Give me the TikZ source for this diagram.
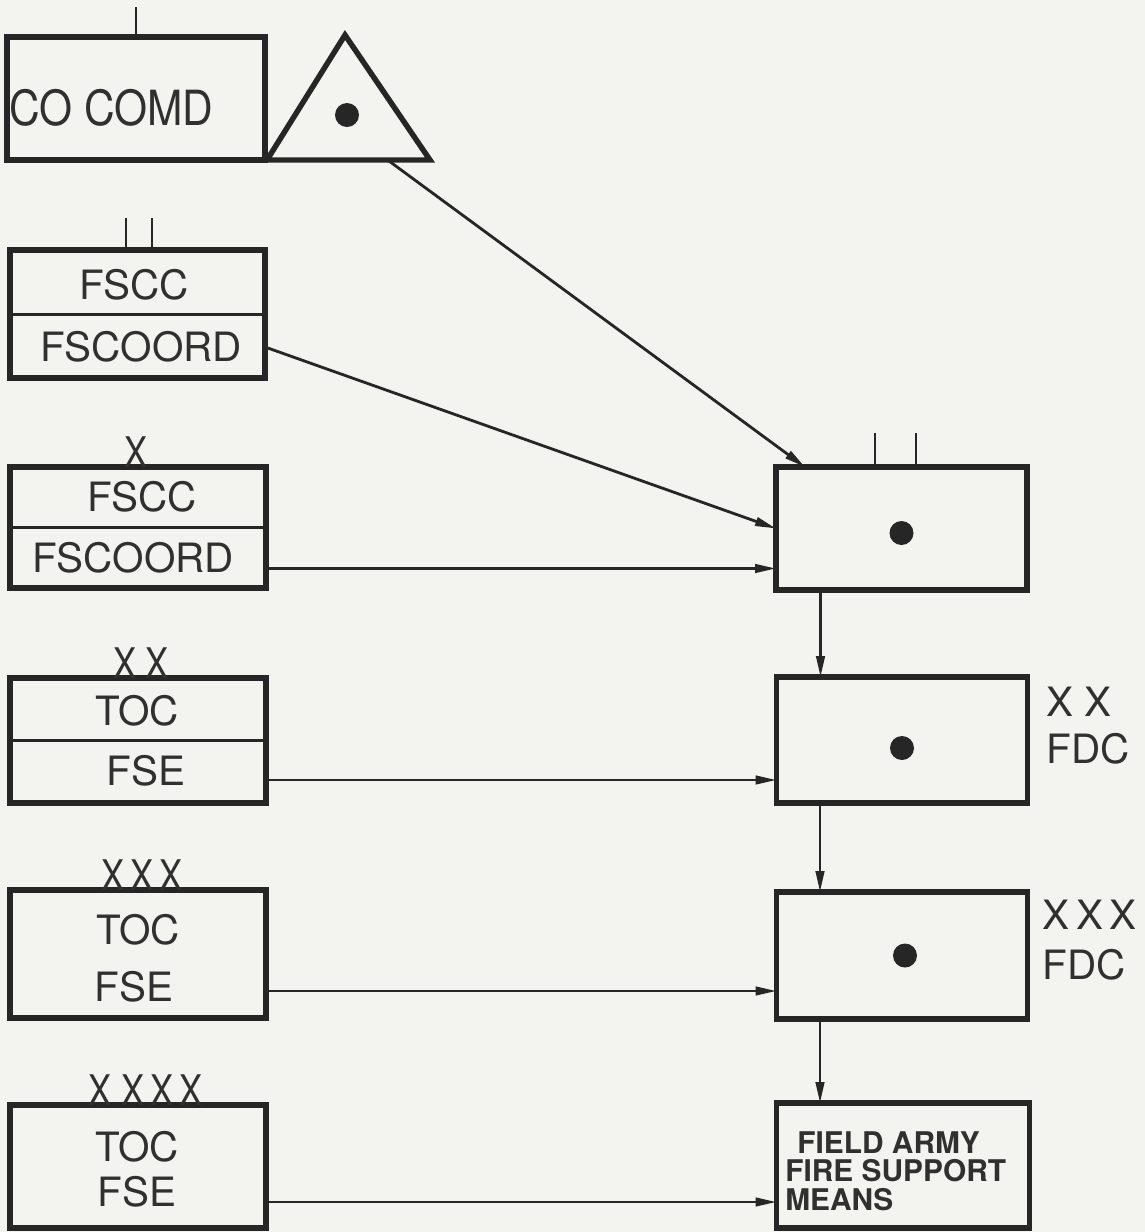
\documentclass[tikz,border=0pt]{standalone}
\usepackage{fontspec}
\setmainfont{TeX Gyre Heros}
\usetikzlibrary{arrows.meta, positioning, calc}
\definecolor{ink}{HTML}{262626}
\definecolor{lettering}{HTML}{303030}
\definecolor{paper}{HTML}{F3F3EF}

\begin{document}
\begin{tikzpicture}[
  x=0.02cm, y=-0.02cm,
  box/.style={rectangle, draw=ink, line width=3.1pt, outer sep=0pt, minimum width=5.12cm, minimum height=2.5cm},
  fdc box/.style={box, minimum width=5.02cm},
  txt/.style={font=\fontsize{23}{26}\selectfont, text=lettering, inner sep=0pt},
  echelon/.style={font=\fontsize{24}{26}\selectfont, text=lettering, inner sep=0pt, anchor=base},
  divider/.style={draw=ink, line width=1.7pt},
  tick/.style={draw=ink, line width=1.6pt},
  flow/.style={draw=ink, line width=1.6pt, -{Triangle[length=0.42cm, width=0.17cm]}},
  dot/.style={circle, fill=ink, inner sep=0pt, minimum size=0.48cm},
]

  \fill[paper] (0,0) rectangle (1145,1232);
  \useasboundingbox (0,0) rectangle (1145,1232);

  % CO COMD and observation post
  \node[box, minimum width=5.16cm, minimum height=2.46cm] (cocomd) at (136,98.5) {};
  \node[txt, anchor=west] (cocomdlbl) at (9,108) {\scalebox{1.05}[1.2]{CO COMD}};
  \draw[tick] (cocomd.north) -- ++(0,-30);
  \coordinate (tl) at (267,160);
  \coordinate (ta) at (345,35);
  \coordinate (tr) at (430,160);
  \draw[ink, line width=3.1pt] (tl) -- (ta) -- (tr) -- cycle;
  \node[dot] (opdot) at (347,115) {};
  \coordinate (opout) at ($(tl)!0.74!(tr)$);

  % II
  \node[box, minimum width=5.1cm, minimum height=2.56cm] (bn) at (137.5,314) {};
  \draw[divider] (bn.west) -- (bn.east);
  \node[txt] (bnup) at (134,285) {FSCC};
  \node[txt] (bnlo) at (141,347) {FSCOORD};
  \draw[tick] ([xshift=-0.23cm]bn.north) -- ++(0,-32);
  \draw[tick] ([xshift=0.29cm]bn.north) -- ++(0,-32);

  % X
  \node[box, minimum height=2.42cm] (bde) at (138,527.5) {};
  \draw[divider] (bde.west) -- (bde.east);
  \node[txt] (bdeup) at (142,497) {FSCC};
  \node[txt] (bdelo) at (133,558) {FSCOORD};
  \node[echelon] (bdex) at ([xshift=-0.04cm]bde.north) {\scalebox{0.82}[1]{X}};

  % XX
  \node[box] (div) at (138,740.5) {};
  \draw[divider] (div.west) -- (div.east);
  \node[txt] (divup) at (137,711) {TOC};
  \node[txt] (divlo) at (146,771) {FSE};
  \node[echelon] (divx) at ([xshift=0.06cm]div.north) {\scalebox{0.82}[1]{X X}};

  % XXX
  \node[box, minimum height=2.56cm] (corps) at (138,954) {};
  \node[txt] (corpsup) at (138,930) {TOC};
  \node[txt] (corpslo) at (134,987) {FSE};
  \node[echelon] (corpsx) at ([xshift=0.08cm]corps.north) {\scalebox{0.82}[1]{X\,X\,X}};

  % XXXX
  \node[box, minimum height=2.46cm] (army) at (138,1166.5) {};
  \node[txt] (armyup) at (137,1147) {TOC};
  \node[txt] (armylo) at (137,1192) {FSE};
  \node[echelon] (armyx) at ([xshift=0.15cm]army.north) {\scalebox{0.82}[1]{X\;X\,X\,X}};

  % FDC column
  \node[fdc box, minimum height=2.46cm] (bnfdc) at (901.5,528.5) {};
  \node[dot] (bnfdcdot) at ([yshift=-0.09cm]bnfdc.center) {};
  \draw[tick] ([xshift=-0.53cm]bnfdc.north) -- ++(0,-34);
  \draw[tick] ([xshift=0.29cm]bnfdc.north) -- ++(0,-34);

  \node[fdc box, minimum height=2.52cm] (divfdc) at (902,740) {};
  \node[dot] (divfdcdot) at ([yshift=-0.16cm]divfdc.center) {};
  \node[txt, font=\fontsize{23}{26.7}\selectfont, align=left, anchor=north west] (divfdclbl) at (1046,687) {X X\\FDC};

  \node[fdc box, minimum height=2.54cm] (corpsfdc) at (902,955.5) {};
  \node[dot] (corpsfdcdot) at ([xshift=0.06cm]corpsfdc.center) {};
  \node[txt, font=\fontsize{23}{28.5}\selectfont, align=left, anchor=north west] (corpsfdclbl) at (1042,900) {X\,X\,X\\FDC};

  \node[fdc box, minimum width=5.06cm] (armyfs) at (903,1165.5) {};
  \node[txt, font=\fontsize{17}{16.2}\selectfont\bfseries, align=left, anchor=north west] (armyfslbl) at (785,1131) {\hspace*{0.24cm}FIELD ARMY\\FIRE SUPPORT\\MEANS};

  % Arrows
  \coordinate (bdein) at ([yshift=-0.8cm]bnfdc.west);
  \coordinate (divin) at ([yshift=-0.8cm]divfdc.west);
  \coordinate (corpsin) at ([yshift=-0.71cm]corpsfdc.west);
  \coordinate (armyin) at ([yshift=-0.73cm]armyfs.west);
  \draw[flow] (opout) -- ([xshift=0.58cm]bnfdc.north west);
  \draw[flow] (bn.east |- bnlo) -- (bnfdc.west);
  \draw[flow] (bde.east |- bdein) -- (bdein);
  \draw[flow] (div.east |- divin) -- (divin);
  \draw[flow] (corps.east |- corpsin) -- (corpsin);
  \draw[flow] (army.east |- armyin) -- (armyin);

  % Vertical arrows
  \draw[flow] ([xshift=-1.62cm]bnfdc.south) -- ([xshift=-1.62cm]bnfdc.south |- divfdc.north);
  \draw[flow] ([xshift=-1.64cm]divfdc.south) -- ([xshift=-1.64cm]divfdc.south |- corpsfdc.north);
  \draw[flow] ([xshift=-1.64cm]corpsfdc.south) -- ([xshift=-1.64cm]corpsfdc.south |- armyfs.north);

\end{tikzpicture}
\end{document}
